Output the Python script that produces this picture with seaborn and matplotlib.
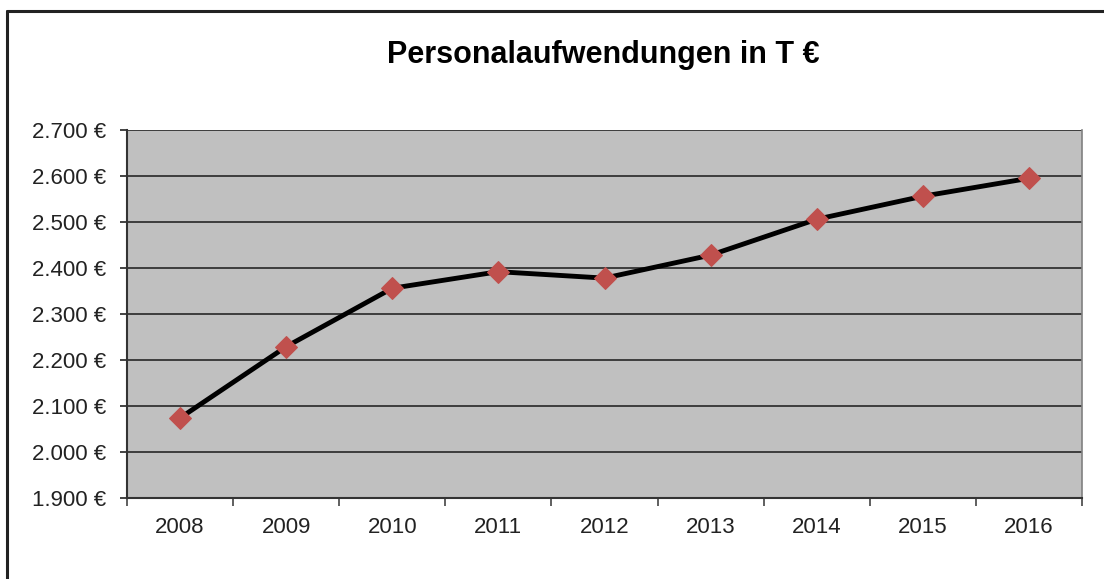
import matplotlib
matplotlib.use("Agg")
import matplotlib.pyplot as plt
from matplotlib.lines import Line2D
import seaborn as sns
import pandas as pd

years = ["2008", "2009", "2010", "2011", "2012", "2013", "2014", "2015", "2016"]
values = [2074, 2229, 2356, 2392, 2378, 2428, 2506, 2556, 2595]
yticks = [1900, 2000, 2100, 2200, 2300, 2400, 2500, 2600, 2700]
title = "Personalaufwendungen in T €"

sns.set_theme(style="white")
plt.rcParams["font.family"] = ["Liberation Sans", "DejaVu Sans"]

df = pd.DataFrame({"Jahr": years, "Wert": values})

fig = plt.figure(figsize=(11.04, 5.79), dpi=100)
ax = fig.add_axes([127 / 1104, 81 / 579, 955 / 1104, 368 / 579])
ax.set_facecolor("#c0c0c0")

sns.lineplot(data=df, x="Jahr", y="Wert", ax=ax, color="black", linewidth=3.5,
             marker="D", markersize=11, markerfacecolor="#c0504d",
             markeredgecolor="#c0504d", sort=False, zorder=3)

ax.set_xlim(-0.5, len(years) - 0.5)
ax.set_ylim(yticks[0], yticks[-1])
ax.set_yticks(yticks)
ax.set_yticklabels([f"{v:,}".replace(",", ".") + " €" for v in yticks])
ax.set_xticks(range(len(years)))
ax.set_xticklabels(years)
ax.tick_params(axis="x", length=0, labelsize=16, pad=14, colors="#222222")
ax.tick_params(axis="y", length=5, width=1.2, labelsize=16, pad=10, colors="#222222",
               direction="out", left=True)
for lbl in ax.get_yticklabels() + ax.get_xticklabels():
    lbl.set_color("#222222")

# category boundary ticks
ax.set_xticks([i - 0.5 for i in range(len(years) + 1)], minor=True)
ax.tick_params(axis="x", which="minor", length=6, width=1.2, color="#444444",
               direction="out", bottom=True)

ax.grid(axis="y", color="#333333", linewidth=1.3)
ax.set_axisbelow(True)
ax.set_xlabel("")
ax.set_ylabel("")

ax.spines["top"].set_visible(False)
ax.spines["right"].set_color("#808080")
ax.spines["right"].set_linewidth(1.2)
ax.spines["left"].set_color("#333333")
ax.spines["left"].set_linewidth(1.5)
ax.spines["bottom"].set_color("#333333")
ax.spines["bottom"].set_linewidth(1.5)

fig.text(603 / 1104, 1 - 55 / 579, title, ha="center", va="center",
         fontsize=22, fontweight="bold", color="black")

# outer chart frame (top and left edges visible)
fig.add_artist(Line2D([7 / 1104, 1.0], [1 - 11 / 579, 1 - 11 / 579],
                      transform=fig.transFigure, color="#222222", linewidth=2.2))
fig.add_artist(Line2D([7 / 1104, 7 / 1104], [0, 1 - 11 / 579],
                      transform=fig.transFigure, color="#222222", linewidth=2.2))

fig.savefig("out.png", dpi=100, facecolor="white")
